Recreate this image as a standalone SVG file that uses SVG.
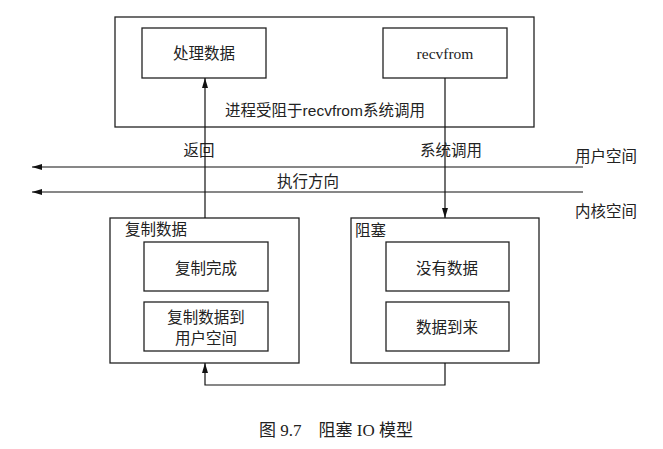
<svg xmlns="http://www.w3.org/2000/svg" width="663" height="449" viewBox="0 0 663 449">
<style>
.box{fill:none;stroke:#222;stroke-width:1.3}
.ln{fill:none;stroke:#111;stroke-width:1.2}
text{font-family:"Liberation Sans","Noto Sans CJK SC",sans-serif;font-size:15.5px;fill:#222;dominant-baseline:central}
.c{text-anchor:middle}
.cap{font-family:"Liberation Serif","Noto Sans CJK SC",serif;font-size:17px}
</style>
<defs>
<marker id="ah" viewBox="0 0 10 6" refX="10" refY="3" markerWidth="10" markerHeight="6" markerUnits="userSpaceOnUse" orient="auto">
<path d="M0,0 L10,3 L0,6 Z" fill="#111"/>
</marker>
</defs>
<g id="top-process">
<rect class="box" x="115" y="17" width="419" height="110"/>
<text class="c" x="325" y="110">进程受阻于recvfrom系统调用</text>
</g>
<g id="process-data">
<rect class="box" x="142" y="28" width="124" height="50"/>
<text class="c" x="204" y="53">处理数据</text>
</g>
<g id="recvfrom">
<rect class="box" x="383" y="28" width="124" height="50"/>
<text class="c" x="445" y="53" style="font-family:'Liberation Serif',serif">recvfrom</text>
</g>
<g id="copy-data">
<rect class="box" x="110" y="218" width="189" height="145"/>
<text x="125" y="229">复制数据</text>
</g>
<g id="copy-done">
<rect class="box" x="144" y="242" width="124" height="49"/>
<text class="c" x="206" y="268">复制完成</text>
</g>
<g id="copy-to-user">
<rect class="box" x="144" y="302" width="124" height="49"/>
<text class="c" x="206" y="317">复制数据到</text>
<text class="c" x="206" y="338">用户空间</text>
</g>
<g id="blocked">
<rect class="box" x="351" y="218" width="188" height="145"/>
<text x="355" y="230">阻塞</text>
</g>
<g id="no-data">
<rect class="box" x="386" y="242" width="123" height="49"/>
<text class="c" x="447" y="268">没有数据</text>
</g>
<g id="data-arrive">
<rect class="box" x="386" y="302" width="123" height="49"/>
<text class="c" x="447" y="327">数据到来</text>
</g>
<g id="labels">
<text class="c" x="199" y="150">返回</text>
<text class="c" x="451" y="150">系统调用</text>
<text class="c" x="308" y="181">执行方向</text>
<text x="575" y="156">用户空间</text>
<text x="575" y="211">内核空间</text>
<text class="c cap" x="336" y="430">图 9.7　阻塞 IO 模型</text>
</g>
<g id="connectors">
<line class="ln" x1="583" y1="167" x2="32" y2="167" marker-end="url(#ah)"/>
<line class="ln" x1="583" y1="192" x2="32" y2="192" marker-end="url(#ah)"/>
<line class="ln" x1="205" y1="218" x2="205" y2="78" marker-end="url(#ah)"/>
<line class="ln" x1="445" y1="78" x2="445" y2="218" marker-end="url(#ah)"/>
<polyline class="ln" points="445,363 445,385 205,385 205,363" marker-end="url(#ah)"/>
</g>
</svg>
